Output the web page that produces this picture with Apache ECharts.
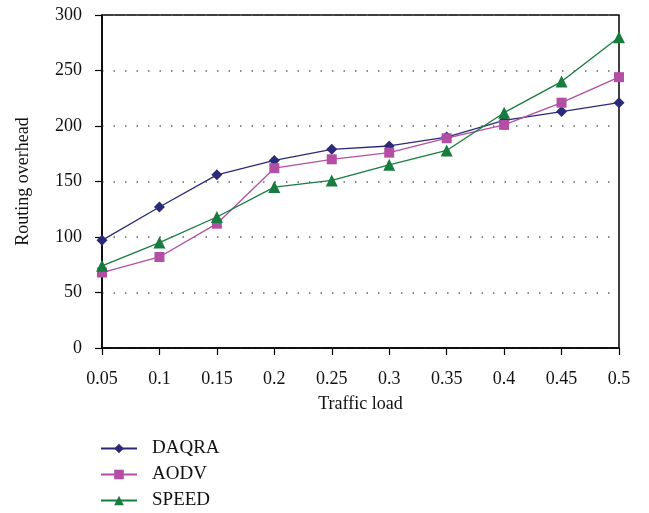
<!DOCTYPE html>
<html><head><meta charset="utf-8">
<script src="https://cdn.jsdelivr.net/npm/echarts@6/dist/echarts.min.js"></script>
<style>html,body{margin:0;padding:0;background:#fff}#c{width:649px;height:513px}</style>
</head><body><div id="c"></div>
<script>
const categories = ['0.05','0.1','0.15','0.2','0.25','0.3','0.35','0.4','0.45','0.5'];
const daqra = [97,127,156,169,179,182,190,205,213,221];
const aodv  = [68,82,112,162,170,176,189,201,221,244];
const speed = [74,95,118,145,151,165,178,212,240,280];
const yTicks = [0,50,100,150,200,250,300];

const FONT = 'Liberation Serif';
const chart = echarts.init(document.getElementById('c'), null, {renderer:'canvas'});
function mk(name, data, color, symbol, size){
  return {name, type:'line', data, symbol, symbolSize:size, showSymbol:true,
    itemStyle:{color}, lineStyle:{color, width:1.3}, animation:false, z:3};
}
chart.setOption({
  animation:false,
  textStyle:{fontFamily:FONT, color:'#000'},
  grid:{left:102, right:30, top:15, bottom:165, show:true, borderColor:'#000', borderWidth:1.5, containLabel:false},
  legend:{orient:'vertical', left:100, top:439, padding:0, itemWidth:36, itemHeight:12, itemGap:7,
    textStyle:{fontFamily:FONT, fontSize:19, color:'#111', padding:[0,0,0,10]},
    data:['DAQRA','AODV','SPEED']},
  xAxis:{type:'category', data:categories, boundaryGap:false,
    name:'Traffic load', nameLocation:'middle', nameGap:47,
    nameTextStyle:{fontFamily:FONT, fontSize:18, color:'#111'},
    axisLine:{lineStyle:{color:'#000', width:1.5}},
    axisTick:{show:true, length:7, lineStyle:{color:'#000', width:1.2}},
    axisLabel:{fontFamily:FONT, fontSize:18, color:'#111', margin:22},
    splitLine:{show:false}},
  yAxis:{type:'value', min:0, max:300, interval:50,
    name:'Routing overhead', nameLocation:'middle', nameGap:70,
    nameTextStyle:{fontFamily:FONT, fontSize:18, color:'#111'},
    axisLine:{show:true, lineStyle:{color:'#000', width:1.5}},
    axisTick:{show:true, length:7, lineStyle:{color:'#000', width:1.2}},
    axisLabel:{fontFamily:FONT, fontSize:18, color:'#111', margin:20,
      formatter:v => yTicks.includes(v) ? String(v) : ''},
    splitLine:{show:true, lineStyle:{color:'#666', width:1.5, type:[1.5,10]}}},
  series:[
    mk('DAQRA', daqra, '#2b2a78', 'diamond', 11),
    mk('AODV', aodv, '#b34ea5', 'rect', 10),
    mk('SPEED', speed, '#177c3d', 'triangle', 12)
  ]
});
</script></body></html>
